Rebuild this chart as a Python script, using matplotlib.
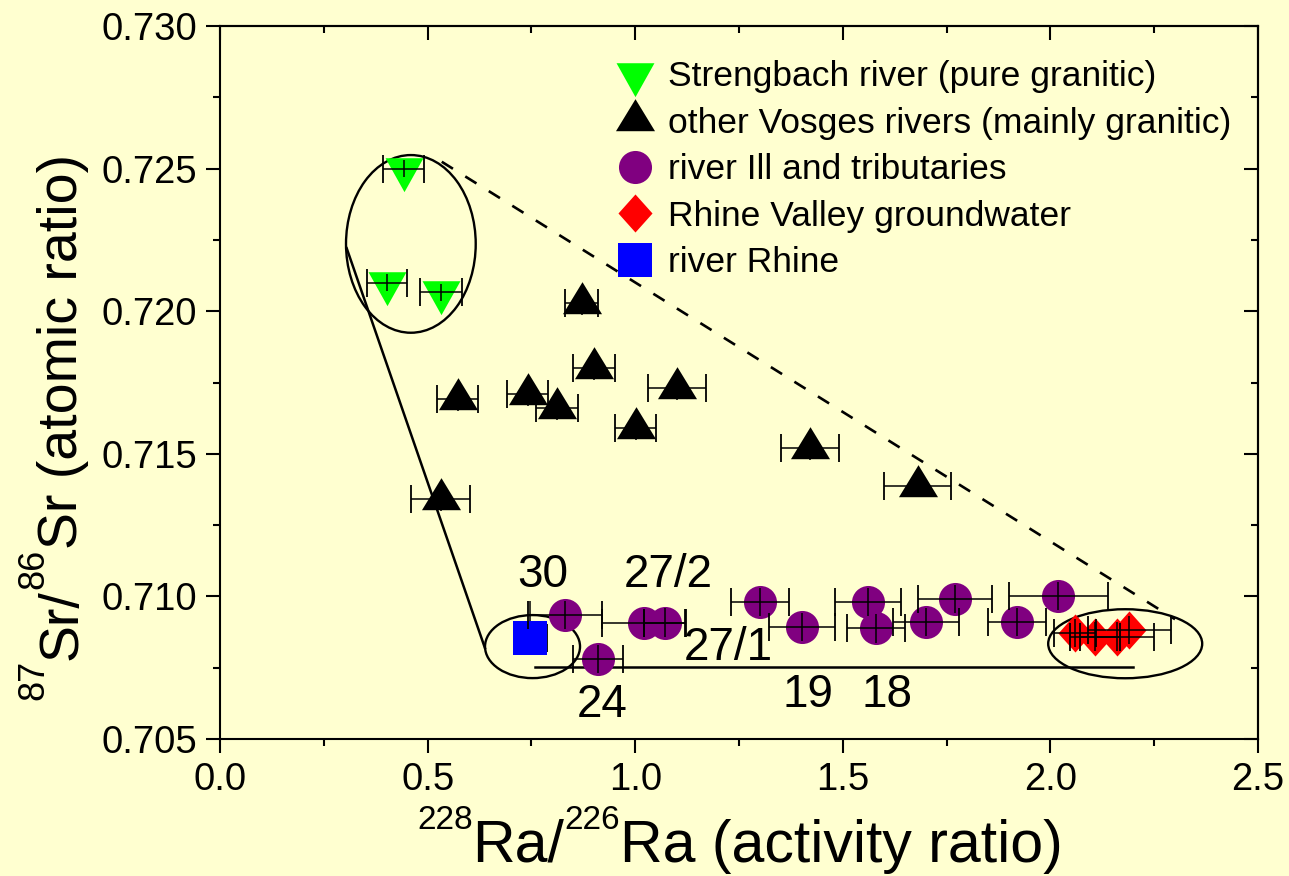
import matplotlib
matplotlib.use("Agg")
import matplotlib.pyplot as plt
from matplotlib.path import Path
from matplotlib.patches import Ellipse
from matplotlib.ticker import MultipleLocator, FormatStrFormatter

# ---------------------------------------------------------------------------
# dati: 228Ra/226Ra (activity ratio), 87Sr/86Sr (atomic ratio), incertezze

strengbach_ra = [0.442, 0.402, 0.532]
strengbach_sr = [0.7250, 0.7210, 0.72067]
strengbach_xerr = [0.049, 0.049, 0.050]
strengbach_yerr = [0.0003, 0.0003, 0.0003]

vosges_ra = [0.871, 0.901, 1.101, 0.741, 0.811, 0.572, 1.001, 0.531, 1.421, 1.680]
vosges_sr = [0.72028, 0.71800, 0.71730, 0.71709, 0.71660, 0.71691, 0.71589, 0.71340, 0.71519, 0.71388]
vosges_xerr = [0.04, 0.05, 0.07, 0.05, 0.05, 0.05, 0.05, 0.07, 0.07, 0.08]
vosges_yerr = [0.0004] * 10

ill_ra = [0.831, 0.911, 1.021, 1.072, 1.300, 1.401, 1.560, 1.580, 1.700, 1.770, 1.919, 2.019]
ill_sr = [0.70935, 0.70780, 0.70906, 0.70908, 0.70981, 0.70892, 0.70981, 0.70888,
          0.70911, 0.70991, 0.70911, 0.71001]
ill_xerr = [0.09, 0.06, 0.10, 0.05, 0.07, 0.08, 0.08, 0.07, 0.08, 0.09, 0.07, 0.12]
ill_yerr = [0.0005] * 12

gw_ra = [2.059, 2.107, 2.160, 2.190]
gw_sr = [0.70871, 0.70859, 0.70859, 0.70882]
gw_xerr = [0.05, 0.06, 0.09, 0.10]
gw_yerr = [0.0005] * 4

rhine_ra = [0.747]
rhine_sr = [0.70853]
rhine_xerr = [0.04]
rhine_yerr = [[0.0003], [0.0013]]

# numeri dei campioni
sample_ids = ["30", "27/2", "27/1", "24", "19", "18"]
sample_x = [0.778, 1.079, 1.2235, 0.920, 1.416, 1.606]
sample_y = [0.71033, 0.71033, 0.70777, 0.70577, 0.70612, 0.70612]

# linee di mescolamento e raggruppamenti
dashed_x = [0.534, 2.300]
dashed_y = [0.72524, 0.70920]
solid_x = [0.305, 0.638]
solid_y = [0.72221, 0.70819]
base_x = [0.759, 2.198]
base_y = [0.70751, 0.70751]
group_centers = [(0.4596, 0.72236), (0.7526, 0.70824), (2.180, 0.70834)]
group_widths = [0.3124, 0.2288, 0.3709]
group_heights = [0.00623, 0.00221, 0.00242]

# ---------------------------------------------------------------------------

plt.rcParams['font.family'] = 'Liberation Sans'
bg = '#FFFFD0'

fig = plt.figure(figsize=(12.89, 8.76), dpi=100, facecolor=bg)
ax = fig.add_axes([0.1707, 0.1564, 0.8053, 0.8139], facecolor=bg)

# marker centrati sul baricentro (triangoli) come in Origin
tri_up = Path([(0, 21.3), (-19.5, -10.7), (19.5, -10.7), (0, 21.3)], closed=True)
tri_down = Path([(0, -22.7), (-19, 11.3), (19, 11.3), (0, -22.7)], closed=True)
diamond = Path([(0, 19), (17, 0), (0, -19), (-17, 0), (0, 19)], closed=True)


def draw_group(ra, sr, xerr, yerr, marker, ms, color, label, bars_on_top=True):
    z = 4 if bars_on_top else 2
    ax.errorbar(ra, sr, xerr=xerr, fmt='none', ecolor='black', elinewidth=1.1,
                capsize=10, capthick=1.3, zorder=z)
    ax.errorbar(ra, sr, yerr=yerr, fmt='none', ecolor='black', elinewidth=1.1,
                capsize=0, zorder=z)
    h, = ax.plot(ra, sr, ls='none', marker=marker, ms=ms, mfc=color, mec=color,
                 mew=0, zorder=3, label=label)
    return h


handles = [
    draw_group(strengbach_ra, strengbach_sr, strengbach_xerr, strengbach_yerr,
               tri_down, 32.6, '#00FF00', 'Strengbach river (pure granitic)'),
    draw_group(vosges_ra, vosges_sr, vosges_xerr, vosges_yerr,
               tri_up, 30.7, 'black', 'other Vosges rivers (mainly granitic)'),
    draw_group(ill_ra, ill_sr, ill_xerr, ill_yerr,
               'o', 23.8, '#800080', 'river Ill and tributaries'),
    draw_group(gw_ra, gw_sr, gw_xerr, gw_yerr,
               diamond, 27.4, '#FF0000', 'Rhine Valley groundwater'),
    draw_group(rhine_ra, rhine_sr, rhine_xerr, rhine_yerr,
               's', 24.5, '#0000FF', 'river Rhine', bars_on_top=False),
]

ax.plot(dashed_x, dashed_y, color='black', lw=1.9, ls=(0, (5, 5.5)), zorder=1)
ax.plot(solid_x, solid_y, color='black', lw=1.8, zorder=1)
ax.plot(base_x, base_y, color='black', lw=1.8, zorder=1)
for c, w, h in zip(group_centers, group_widths, group_heights):
    ax.add_patch(Ellipse(c, w, h, fill=False, ec='black', lw=1.7, zorder=1))

for s, x, y in zip(sample_ids, sample_x, sample_y):
    ax.text(x, y, s, ha='center', va='baseline', fontsize=33)

ax.set_xlim(0, 2.5)
ax.set_ylim(0.705, 0.730)
ax.xaxis.set_major_locator(MultipleLocator(0.5))
ax.xaxis.set_minor_locator(MultipleLocator(0.25))
ax.yaxis.set_major_locator(MultipleLocator(0.005))
ax.yaxis.set_minor_locator(MultipleLocator(0.0025))
ax.xaxis.set_major_formatter(FormatStrFormatter('%.1f'))
ax.yaxis.set_major_formatter(FormatStrFormatter('%.3f'))
ax.tick_params(which='major', direction='out', length=10, width=1.5,
               labelsize=27.5, pad=6.5)
ax.tick_params(which='minor', direction='out', length=5, width=1.5)
for sp in ax.spines.values():
    sp.set_linewidth(1.5)

# tacche interne sui lati opposti
top = ax.secondary_xaxis('top')
right = ax.secondary_yaxis('right')
for sec, axis in ((top, top.xaxis), (right, right.yaxis)):
    axis.set_major_locator(MultipleLocator(0.5 if sec is top else 0.005))
    axis.set_minor_locator(MultipleLocator(0.25 if sec is top else 0.0025))
    sec.tick_params(which='major', direction='in', length=10, width=1.5,
                    labelleft=False, labelright=False, labeltop=False)
    sec.tick_params(which='minor', direction='in', length=5, width=1.5)
    for sp in sec.spines.values():
        sp.set_linewidth(1.5)

ax.legend(handles=handles, loc='upper left', bbox_to_anchor=(0.383, 0.952),
          frameon=False, fontsize=25.5, borderpad=0, borderaxespad=0,
          handlelength=1.0, handletextpad=0.43, labelspacing=0.38)

# etichette degli assi con apici (pezzi concatenati)
big_x = dict(fontsize=42.5)
sup_x = dict(fontsize=24)
t = fig.text(0.3235, 0.0537, '228', ha='left', va='baseline', **sup_x)
t = ax.annotate('Ra/', xy=(1, 0.016), xycoords=(t, 'figure fraction'),
                ha='left', va='baseline', **big_x)
t = ax.annotate('226', xy=(1, 0.0537), xycoords=(t, 'figure fraction'),
                ha='left', va='baseline', **sup_x)
ax.annotate('Ra (activity ratio)', xy=(1, 0.016), xycoords=(t, 'figure fraction'),
            ha='left', va='baseline', **big_x)

rot = dict(rotation=90, rotation_mode='anchor', ha='left', va='baseline')
big_y = dict(fontsize=40)
sup_y = dict(fontsize=26)
t = fig.text(0.0336, 0.2009, '87', **rot, **sup_y)
t = ax.annotate('Sr/', xy=(0.0597, 1), xycoords=('figure fraction', t), **rot, **big_y)
t = ax.annotate('86', xy=(0.0336, 1), xycoords=('figure fraction', t), **rot, **sup_y)
ax.annotate('Sr (atomic ratio)', xy=(0.0597, 1), xycoords=('figure fraction', t),
            **rot, **big_y)

fig.savefig('out.png', dpi=100, facecolor=bg)
